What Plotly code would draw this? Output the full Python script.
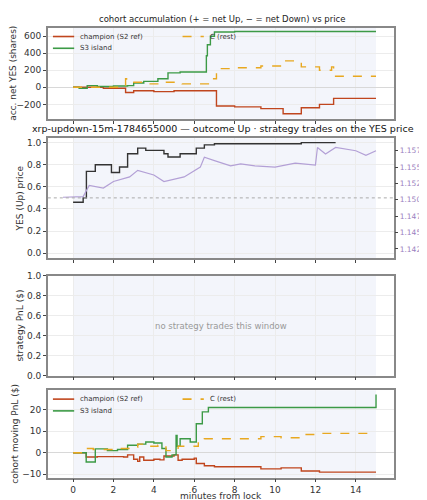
import plotly.graph_objects as go

# ---- data ----
p1_s3_x = [0, 0.3, 0.7, 1.2, 2.0, 2.7, 3.0, 3.5, 4.2, 4.7, 5.3, 6.6, 6.65, 6.8, 7.0, 8.0, 15]
p1_s3_y = [0, -10, 20, 10, 15, 20, 50, 70, 100, 170, 180, 370, 500, 600, 650, 655, 655]
p1_c_x = [0, 2.6, 2.65, 3.5, 4.3, 5.4, 6.7, 7.1, 8.0, 9.3, 10.4, 11.3, 12.2, 12.8, 12.9, 15]
p1_c_y = [0, 100, 60, 40, 60, 40, 100, 220, 230, 250, 310, 240, 200, 240, 130, 130]
p1_ch_x = [0, 1.5, 2.6, 3.0, 4.0, 5.0, 6.8, 7.1, 8.0, 9.3, 10.4, 11.3, 12.2, 12.9, 15]
p1_ch_y = [0, -10, -60, -40, -50, -40, -40, -220, -230, -250, -310, -240, -200, -130, -130]

yes_x = [0, 0.5, 0.66, 1.1, 1.9, 2.3, 2.7, 3.2, 3.6, 4.5, 4.7, 5.3, 6.1, 6.5, 7.0, 11.3, 13.0]
yes_y = [0.46, 0.50, 0.74, 0.80, 0.73, 0.78, 0.90, 0.95, 0.93, 0.90, 0.87, 0.90, 0.95, 0.98, 0.99, 1.0, 1.0]
xrp_x = [-0.5, 0.5, 0.8, 1.5, 2.0, 2.8, 3.2, 4.0, 4.5, 5.0, 5.5, 6.3, 6.5, 7.0, 7.8, 8.3, 9.0, 10.0, 11.0, 12.0, 12.1, 12.5, 13.0, 14.0, 14.5, 15.0]
xrp_y = [1.1504, 1.1505, 1.1522, 1.1518, 1.1528, 1.1535, 1.1545, 1.1538, 1.1528, 1.1532, 1.1535, 1.1550, 1.1565, 1.1560, 1.1552, 1.1555, 1.1552, 1.1550, 1.1556, 1.1553, 1.1580, 1.1570, 1.1580, 1.1575, 1.1568, 1.1575]

p4_s3_x = [0, 0.65, 1.1, 1.7, 2.2, 2.7, 3.2, 3.6, 4.0, 4.4, 4.6, 4.9, 5.1, 5.15, 5.3, 5.8, 6.1, 6.4, 6.7, 14.99, 15]
p4_s3_y = [0, -4.3, 1.8, 1.0, 1.5, 3.5, 4.0, 5.0, 4.5, 2.0, -2.0, -1.0, 8.0, 3.0, 6.5, 5.0, 13.5, 19.0, 21.0, 21.0, 27.0]
p4_c_x = [0, 0.65, 1.0, 2.0, 3.0, 3.2, 3.5, 4.2, 4.6, 4.9, 5.2, 6.0, 6.2, 6.5, 9.3, 10.3, 11.3, 12.2, 15]
p4_c_y = [0, 2.0, 1.5, 2.0, 2.5, 4.0, 3.0, 3.5, 1.0, 1.5, 3.0, 3.0, 6.0, 6.5, 7.5, 7.0, 8.5, 9.0, 9.0]
p4_ch_x = [0, 0.65, 1.2, 2.5, 2.7, 3.0, 3.2, 3.3, 3.5, 4.0, 4.3, 4.5, 5.0, 5.2, 5.4, 6.0, 6.1, 6.5, 7.0, 9.3, 10.3, 11.3, 12.2, 15]
p4_ch_y = [0, -2.0, -1.8, -2.0, -1.0, -3.0, -4.0, -2.0, -3.5, -3.0, -3.3, -1.5, -1.0, -3.5, -3.0, -2.5, -5.0, -6.0, -6.5, -7.5, -7.0, -8.5, -9.0, -9.0]

RED, GREEN, ORANGE = "#c0461e", "#3c9a46", "#e8a820"
FONT = "DejaVu Sans"
PURPLE = "#9a7fc0"

fig = go.Figure()
def step(x, y, color, xa, ya, dash="solid", w=1.4):
    fig.add_trace(go.Scatter(x=x, y=y, mode="lines", line=dict(shape="hv", color=color, width=w, dash=dash),
                             xaxis=xa, yaxis=ya, showlegend=False, hoverinfo="skip"))

step(p1_ch_x, p1_ch_y, RED, "x", "y")
step(p1_s3_x, p1_s3_y, GREEN, "x", "y")
step(p1_c_x, p1_c_y, ORANGE, "x", "y", dash="dash")
step(yes_x, yes_y, "#333333", "x2", "y2")
fig.add_trace(go.Scatter(x=xrp_x, y=xrp_y, mode="lines", line=dict(color="#b3a0d6", width=1.2),
                         xaxis="x2", yaxis="y5", showlegend=False))
step(p4_ch_x, p4_ch_y, RED, "x4", "y4")
step(p4_s3_x, p4_s3_y, GREEN, "x4", "y4")
step(p4_c_x, p4_c_y, ORANGE, "x4", "y4", dash="dash")

xd = [0.089, 0.904]
doms = {1: [0.784, 0.97], 2: [0.50, 0.744], 3: [0.26, 0.464], 4: [0.052, 0.23]}
ax = dict(range=[-1.25, 15.9], tickvals=list(range(0, 16, 2)), showgrid=True, gridcolor="#ececec",
          ticks="outside", ticklen=3, linecolor="#888", linewidth=1.5, mirror=True, zeroline=False,
          tickfont=dict(size=9, family=FONT, color="#333"))
yx = dict(showgrid=True, gridcolor="#ececec", ticks="outside", ticklen=3, linecolor="#888", linewidth=1.5,
          mirror=True, tickfont=dict(size=9, family=FONT, color="#333"), zeroline=True, zerolinecolor="#d8d8d8", zerolinewidth=1)
tf = dict(size=9, family=FONT, color="#333")
lay = dict(width=427, height=500, margin=dict(l=0, r=0, t=0, b=0), plot_bgcolor="white", paper_bgcolor="white",
           font=dict(family=FONT), showlegend=False)
for i in range(1, 5):
    k = "" if i == 1 else str(i)
    lay["xaxis" + k] = dict(ax, domain=xd, anchor="y" + k, showticklabels=(i == 4))
lay["yaxis"] = dict(yx, domain=doms[1], anchor="x", range=[-370, 700], tickvals=[-200, 0, 200, 400, 600],
                    title=dict(text="acc. net YES (shares)", font=tf, standoff=2))
lay["yaxis2"] = dict(yx, domain=doms[2], anchor="x2", range=[-0.044, 1.038], tickvals=[0, 0.2, 0.4, 0.6, 0.8, 1.0],
                     tickformat=".1f", zeroline=False, title=dict(text="YES (Up) price", font=tf, standoff=2))
lay["yaxis3"] = dict(yx, domain=doms[3], anchor="x3", range=[0, 1], tickvals=[0, 0.2, 0.4, 0.6, 0.8, 1.0],
                     tickformat=".1f", zeroline=False, title=dict(text="strategy PnL ($)", font=tf, standoff=2))
lay["yaxis4"] = dict(yx, domain=doms[4], anchor="x4", range=[-11.5, 29], tickvals=[-10, 0, 10, 20],
                     title=dict(text="cohort moving PnL ($)", font=tf, standoff=2))
lay["yaxis5"] = dict(overlaying="y2", side="right", anchor="x2", range=[1.14112, 1.15938],
                     tickvals=[1.1425, 1.145, 1.1475, 1.15, 1.1525, 1.155, 1.1575], tickformat=".4f",
                     ticks="outside", ticklen=3, showgrid=False, zeroline=False,
                     tickfont=dict(size=7.5, family=FONT, color=PURPLE))
fig.update_layout(**lay)

shapes = []
for i in range(1, 5):
    k = "" if i == 1 else str(i)
    shapes.append(dict(type="rect", xref="x" + k, yref="y" + k + " domain", x0=0, x1=15, y0=0, y1=1,
                       fillcolor="#f3f5fb", line_width=0, layer="below"))
shapes.append(dict(type="line", xref="x2 domain", yref="y2", x0=0, x1=1, y0=0.5, y1=0.5,
                   line=dict(color="#aaaaaa", width=1, dash="dot")))

ann = [
    dict(text="cohort accumulation (+ = net Up, − = net Down) vs price", x=0.5, y=doms[1][1] + 0.004, yanchor="bottom",
         font=dict(size=8.5, family=FONT, color="#222")),
    dict(text="xrp-updown-15m-1784655000 — outcome Up · strategy trades on the YES price", x=0.5, y=doms[2][1] + 0.004,
         yanchor="bottom", font=dict(size=9.5, family=FONT, color="#111")),
    dict(text="no strategy trades this window", x=(xd[0] + xd[1]) / 2, y=(doms[3][0] + doms[3][1]) / 2,
         font=dict(size=8.5, family=FONT, color="#999")),
    dict(text="XRP/USD (strike dotted = YES 0.5)", x=0.993, y=(doms[2][0] + doms[2][1]) / 2, textangle=90,
         font=dict(size=7, family=FONT, color=PURPLE)),
    dict(text="minutes from lock", x=(xd[0] + xd[1]) / 2, y=0.0, yanchor="bottom",
         font=dict(size=9, family=FONT, color="#333")),
]

# manual legends (2 columns)
legend_names = ["champion (S2 ref)", "S3 island", "C (rest)"]
legend_cols = [RED, GREEN, ORANGE]
legend_dash = ["solid", "solid", "dash"]
legend_pos = [(0, 0), (0, 1), (1, 0)]  # (col,row)
for panel in (1, 4):
    top = doms[panel][1]
    x0 = xd[0] + 0.012
    ytop = top - 0.018
    for name, col, dsh, (c, r) in zip(legend_names, legend_cols, legend_dash, legend_pos):
        lx = x0 + c * 0.305
        ly = ytop - r * 0.024
        shapes.append(dict(type="line", xref="paper", yref="paper", x0=lx, x1=lx + 0.05, y0=ly, y1=ly,
                           line=dict(color=col, width=1.6, dash=dsh)))
        ann.append(dict(text=name, x=lx + 0.06, y=ly, xanchor="left", yanchor="middle",
                        font=dict(size=7, family=FONT, color="#333")))
for a in ann:
    a.update(xref="paper", yref="paper", showarrow=False)
fig.update_layout(shapes=shapes, annotations=ann)
fig.write_html("out.html")
